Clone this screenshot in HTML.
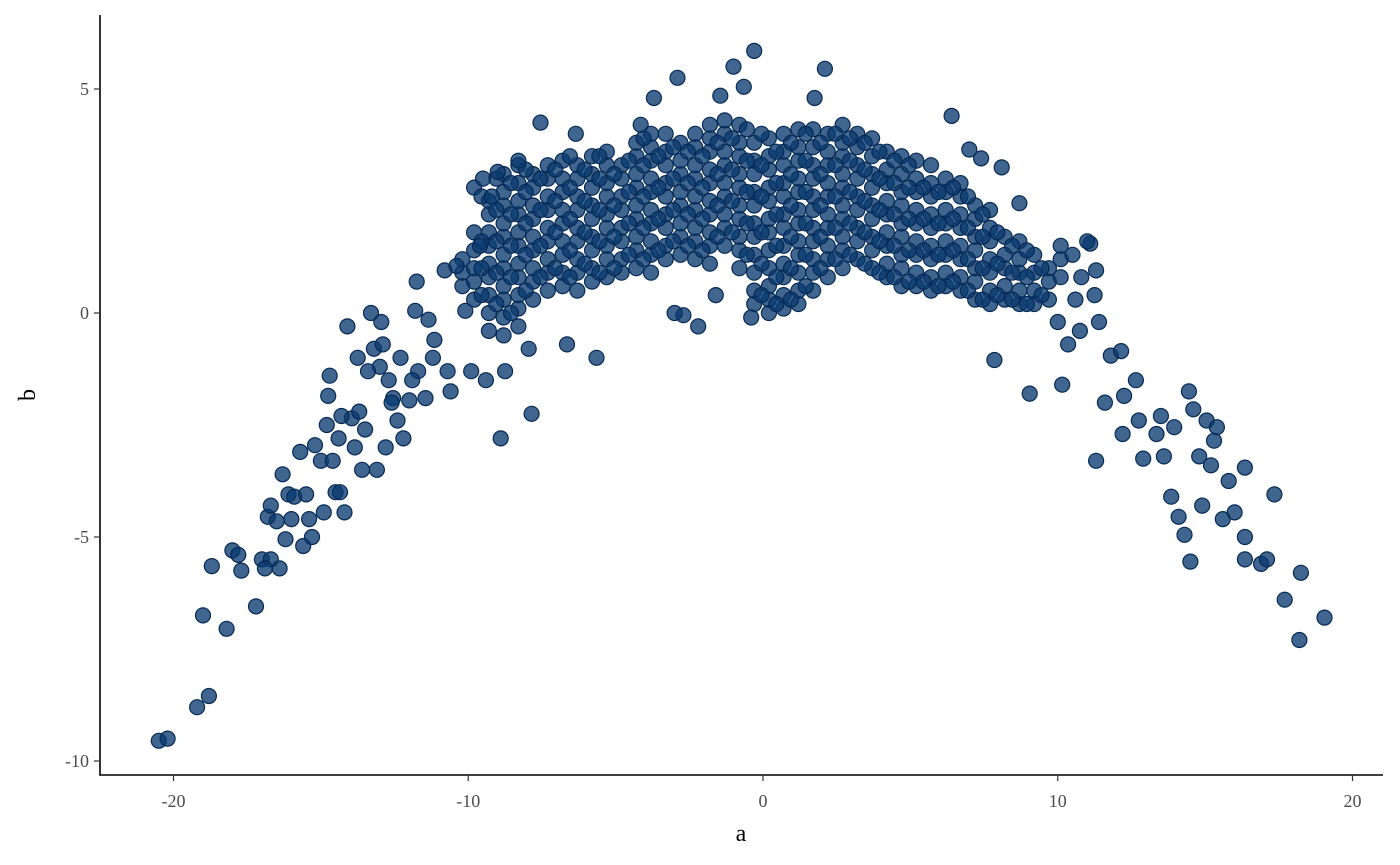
<!DOCTYPE html>
<html><head><meta charset="utf-8">
<style>
html,body{margin:0;padding:0;background:#fff;}
svg{display:block;}
text{font-family:"Liberation Serif",serif;}
</style></head>
<body>
<svg id="chart" width="1400" height="865">
  <g id="points"></g>
  <g id="axes"></g>
</svg>
<script>
const xTicks = [-20, -10, 0, 10, 20];
const yTicks = [5, 0, -5, -10];
const xTickLabels = ["-20", "-10", "0", "10", "20"];
const yTickLabels = ["5", "0", "-5", "-10"];
const tailA = [-20.5,-20.2,-19.2,-18.8,-19.0,-18.7,-18.2,-18.0,-17.8,-17.7,-17.2,-17.0,-16.7,-16.8,-16.7,-16.5,-16.4,-16.3,-16.2,-16.1,-16.0,-15.9,-15.6,-15.5,-15.4,-15.3,-15.2,-15.0,-14.9,-14.75,-14.7,-14.6,-14.5,-14.4,-14.35,-14.2,-14.1,-13.95,-13.85,-13.75,-13.6,-13.5,-13.3,-13.2,-13.1,-12.95,-12.8,-12.7,-12.55,-12.4,-12.2,-12.0,-11.8,-11.75,-11.7,-11.45,-11.35,-11.15,-10.8,-10.6,-10.4,-10.1,-9.9,-9.6,-9.5,-9.4,-9.2,-9.0,-8.9,-8.75,-8.3,-7.95,-7.85,-7.55,-6.65,-6.35,-5.65,-4.15,-3.7,-2.9,-2.7,-1.45,-1.0,-0.65,-0.3,2.1,1.75,-0.4,6.4,7.0,7.4,7.85,9.05,8.1,8.7,10.0,10.15,10.35,10.75,11.25,11.3,11.4,11.6,11.8,12.15,12.2,12.25,12.65,12.75,12.9,13.35,13.5,13.6,13.85,13.95,14.1,14.3,14.45,14.5,14.6,14.8,14.9,15.05,15.2,15.3,15.4,15.6,15.8,16.0,16.35,16.35,16.35,16.9,17.1,17.35,17.7,18.2,18.25,19.05,-14.3,-13.0,-12.3,-11.9,-12.6,-13.4,-14.8,-15.7,-16.9,-11.2,-10.7,-12.9,-13.7,10.5,10.8,11.1,11.3,10.6,11.0,-3.0,-1.6,-2.2];
const tailB = [-9.55,-9.5,-8.8,-8.55,-6.75,-5.65,-7.05,-5.3,-5.4,-5.75,-6.55,-5.5,-5.5,-4.55,-4.3,-4.65,-5.7,-3.6,-5.05,-4.05,-4.6,-4.1,-5.2,-4.05,-4.6,-5.0,-2.95,-3.3,-4.45,-1.85,-1.4,-3.3,-4.0,-2.8,-4.0,-4.45,-0.3,-2.35,-3.0,-1.0,-3.5,-2.6,0.0,-0.8,-3.5,-0.2,-3.0,-1.5,-1.9,-2.4,-2.8,-1.95,0.05,0.7,-1.3,-1.9,-0.15,-0.6,0.95,-1.75,1.05,0.05,-1.3,1.5,3.0,-1.5,2.6,3.15,-2.8,-1.3,3.4,-0.8,-2.25,4.25,-0.7,4.0,-1.0,4.2,4.8,5.25,-0.05,4.85,5.5,5.05,5.85,5.45,4.8,-0.1,4.4,3.65,3.45,-1.05,-1.8,3.25,2.45,-0.2,-1.6,-0.7,-0.4,0.4,-3.3,-0.2,-2.0,-0.95,-0.85,-2.7,-1.85,-1.5,-2.4,-3.25,-2.7,-2.3,-3.2,-4.1,-2.55,-4.55,-4.95,-1.75,-5.55,-2.15,-3.2,-4.3,-2.4,-3.4,-2.85,-2.55,-4.6,-3.75,-4.45,-3.45,-5.0,-5.5,-5.6,-5.5,-4.05,-6.4,-7.3,-5.8,-6.8,-2.3,-1.2,-1.0,-1.5,-2.0,-1.3,-2.5,-3.1,-5.7,-1.0,-1.3,-0.7,-2.2,1.3,0.8,1.55,0.95,0.3,1.6,0.0,0.4,-0.3];
// dense core: one a value per column, with the b values observed in that column
const colA = [-10.2,-9.8,-9.3,-8.8,-8.3,-7.8,-7.3,-6.8,-6.3,-5.8,-5.3,-4.8,-4.3,-3.8,-3.3,-2.8,-2.3,-1.8,-1.3,-0.8,-0.3,0.2,0.7,1.2,1.7,2.2,2.7,3.2,3.7,4.2,4.7,5.2,5.7,6.2,6.7,7.2,7.7,8.2,8.7,9.2,9.7,10.1];
const colB = [
 [0.6,0.9,1.2],
 [0.3,0.7,1.0,1.4,1.8,2.8],
 [-0.4,0.0,0.4,0.8,1.1,1.5,1.8,2.2,2.5],
 [-0.5,-0.1,0.3,0.6,1.0,1.3,1.7,2.0,2.4,2.7,3.1],
 [-0.3,0.1,0.4,0.8,1.1,1.5,1.8,2.2,2.5,2.9,3.3],
 [0.3,0.7,1.0,1.4,1.7,2.1,2.4,2.8,3.1],
 [0.5,0.9,1.2,1.6,1.9,2.3,2.6,3.0,3.3],
 [0.6,0.9,1.3,1.6,2.0,2.3,2.7,3.0,3.4],
 [0.5,0.9,1.2,1.6,1.9,2.3,2.6,3.0,3.3],
 [0.7,1.0,1.4,1.7,2.1,2.4,2.8,3.1,3.5],
 [0.8,1.2,1.5,1.9,2.2,2.6,2.9,3.3,3.6],
 [0.9,1.2,1.6,1.9,2.3,2.6,3.0,3.3],
 [1.0,1.4,1.7,2.1,2.4,2.8,3.1,3.5,3.8],
 [0.9,1.3,1.6,2.0,2.3,2.7,3.0,3.4,3.7,4.0],
 [1.2,1.5,1.9,2.2,2.6,2.9,3.3,3.6,4.0],
 [1.3,1.7,2.0,2.4,2.7,3.1,3.4,3.8],
 [1.2,1.6,1.9,2.3,2.6,3.0,3.3,3.7,4.0],
 [1.1,1.5,1.8,2.2,2.5,2.9,3.2,3.6,3.9,4.2],
 [1.5,1.9,2.2,2.6,2.9,3.3,3.6,4.0,4.3],
 [1.0,1.4,1.7,2.1,2.4,2.8,3.1,3.5,3.8,4.2],
 [0.2,0.5,0.9,1.3,1.7,2.0,2.4,2.7,3.1,3.4,3.8],
 [0.0,0.3,0.6,1.0,1.4,1.8,2.1,2.5,2.8,3.2,3.5,3.9],
 [0.1,0.4,0.8,1.1,1.5,1.9,2.2,2.6,2.9,3.3,3.6,4.0],
 [0.2,0.5,0.9,1.3,1.6,2.0,2.3,2.7,3.0,3.4,3.7,4.1],
 [0.5,0.9,1.2,1.6,1.9,2.3,2.6,3.0,3.3,3.7,4.1],
 [0.8,1.2,1.5,1.9,2.2,2.6,2.9,3.3,3.6,4.0],
 [1.0,1.4,1.7,2.1,2.4,2.8,3.1,3.5,3.8,4.2],
 [1.2,1.6,1.9,2.3,2.6,3.0,3.3,3.7,4.0],
 [1.0,1.4,1.7,2.1,2.4,2.8,3.1,3.5,3.9],
 [0.8,1.1,1.5,1.8,2.2,2.5,2.9,3.2,3.6],
 [0.6,1.0,1.3,1.7,2.0,2.4,2.7,3.1,3.5],
 [0.6,0.9,1.3,1.6,2.0,2.3,2.7,3.0,3.4],
 [0.5,0.8,1.2,1.5,1.9,2.2,2.6,2.9,3.3],
 [0.6,0.9,1.3,1.6,2.0,2.3,2.7,3.0],
 [0.5,0.8,1.2,1.5,1.9,2.2,2.6,2.9],
 [0.3,0.7,1.0,1.4,1.7,2.1,2.4],
 [0.2,0.5,0.9,1.2,1.6,1.9,2.3],
 [0.3,0.6,1.0,1.3,1.7],
 [0.2,0.5,0.9,1.2,1.6],
 [0.2,0.5,0.9,1.3],
 [0.3,0.7,1.0],
 [0.8,1.2,1.5]
];
// second, staggered pass through the core
const colA2 = [-9.55,-9.05,-8.55,-8.05,-7.55,-7.05,-6.55,-6.05,-5.55,-5.05,-4.55,-4.05,-3.55,-3.05,-2.55,-2.05,-1.55,-1.05,-0.55,-0.05,0.45,0.95,1.45,1.95,2.45,2.95,3.45,3.95,4.45,4.95,5.45,5.95,6.45,6.95,7.45,7.95,8.45,8.95,9.45];
const colB2 = [
 [0.4,1.0,1.6,2.6],
 [0.2,0.9,1.6,2.3,3.0],
 [0.0,0.8,1.5,2.2,2.9],
 [0.5,1.3,2.0,2.7,3.2],
 [0.8,1.5,2.3,3.0],
 [1.0,1.8,2.5,3.2],
 [0.8,1.4,2.1,2.8,3.5],
 [1.1,1.8,2.5,3.2],
 [0.9,1.6,2.3,3.0,3.5],
 [1.0,1.7,2.4,3.1],
 [1.3,2.0,2.7,3.4],
 [1.2,1.9,2.6,3.3,3.9],
 [1.4,2.1,2.8,3.5],
 [1.6,2.3,3.0,3.7],
 [1.5,2.2,2.9,3.6],
 [1.4,2.1,2.8,3.5],
 [1.7,2.4,3.1,3.8],
 [1.8,2.5,3.2,3.9],
 [1.3,2.0,2.7,3.4,4.1],
 [0.4,1.1,1.8,2.6,3.3,4.0],
 [0.2,0.8,1.5,2.2,2.9,3.6],
 [0.3,1.0,1.7,2.4,3.1,3.8],
 [0.6,1.3,2.0,2.7,3.4,4.0],
 [1.0,1.7,2.4,3.1,3.8],
 [1.2,1.9,2.6,3.3,4.0],
 [1.3,2.0,2.7,3.4,3.9],
 [1.1,1.8,2.5,3.2,3.8],
 [0.9,1.6,2.3,3.0,3.6],
 [0.8,1.5,2.2,2.9,3.4],
 [0.7,1.4,2.1,2.8,3.3],
 [0.7,1.4,2.1,2.8],
 [0.6,1.3,2.0,2.7],
 [0.7,1.4,2.1,2.8],
 [0.5,1.2,1.9,2.6],
 [0.3,1.0,1.7,2.2],
 [0.4,1.1,1.8],
 [0.3,0.9,1.5],
 [0.2,0.8,1.4],
 [0.4,1.0]
];
const NS = "http://www.w3.org/2000/svg";
const x = a => 763 + a * 29.475;
const y = b => 313 - b * 44.8;

const pg = document.getElementById('points');
function dot(a, b) {
  const c = document.createElementNS(NS, 'circle');
  c.setAttribute('cx', x(a).toFixed(1));
  c.setAttribute('cy', y(b).toFixed(1));
  c.setAttribute('r', 7.5);
  c.setAttribute('fill', '#0a3a6e');
  c.setAttribute('fill-opacity', '0.78');
  c.setAttribute('stroke', '#062a55');
  c.setAttribute('stroke-width', '1.2');
  
  
  pg.appendChild(c);
}
colA.forEach((a, i) => colB[i].forEach(b => dot(a, b)));
colA2.forEach((a, i) => colB2[i].forEach(b => dot(a, b)));
for (let i = 0; i < tailA.length; i++) dot(tailA[i], tailB[i]);

const ax = document.getElementById('axes');
function add(tag, attrs, txt) {
  const e = document.createElementNS(NS, tag);
  for (const k in attrs) e.setAttribute(k, attrs[k]);
  if (txt !== undefined) e.textContent = txt;
  ax.appendChild(e);
  return e;
}
const yl = add('line', {x1:100, y1:15, x2:100, y2:775.5, stroke:'#000', 'stroke-width':1.6});


const xl = add('line', {x1:99.2, y1:775, x2:1383, y2:775, stroke:'#000', 'stroke-width':1.6});


xTicks.forEach((t, i) => {
  const tk = add('line', {x1:x(t), y1:775, x2:x(t), y2:781, stroke:'#333', 'stroke-width':1.2});
  
  
  const lb = add('text', {x:x(t), y:807, 'text-anchor':'middle', 'font-size':18, fill:'#4d4d4d'}, xTickLabels[i]);
  
  
});
yTicks.forEach((t, i) => {
  const tk = add('line', {x1:94, y1:y(t), x2:100, y2:y(t), stroke:'#333', 'stroke-width':1.2});
  
  
  const lb = add('text', {x:89, y:y(t)+6, 'text-anchor':'end', 'font-size':18, fill:'#4d4d4d'}, yTickLabels[i]);
  
  
});
const xt = add('text', {x:741, y:841, 'text-anchor':'middle', 'font-size':24, fill:'#000'}, 'a');


const yt = add('text', {x:0, y:0, 'text-anchor':'middle', 'font-size':24, fill:'#000', transform:'translate(35,395) rotate(-90)'}, 'b');


</script>
</body></html>
